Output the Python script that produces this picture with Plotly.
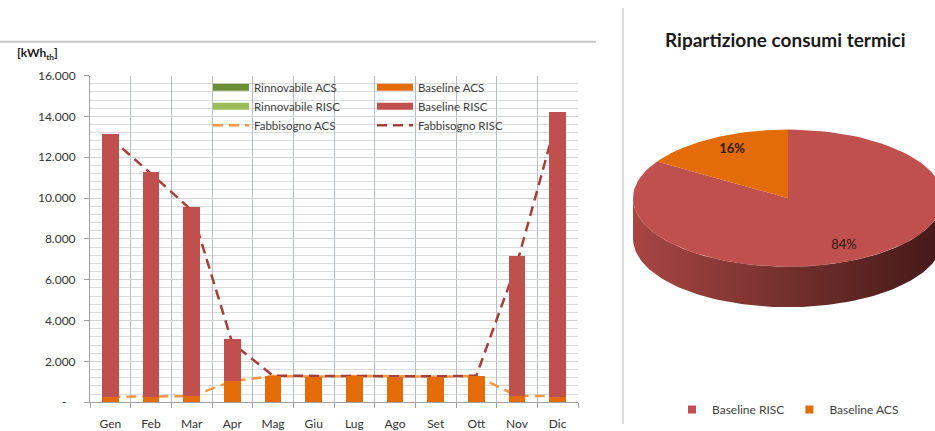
import numpy as np
import plotly.graph_objects as go

# ---------------- data ----------------
months = ["Gen", "Feb", "Mar", "Apr", "Mag", "Giu", "Lug", "Ago", "Set", "Ott", "Nov", "Dic"]
rinnovabile_acs = [0, 0, 0, 0, 0, 0, 0, 0, 0, 0, 0, 0]
rinnovabile_risc = [0, 0, 0, 0, 0, 0, 0, 0, 0, 0, 0, 0]
baseline_acs = [280, 270, 300, 1050, 1290, 1230, 1290, 1260, 1230, 1300, 310, 270]
baseline_risc = [12870, 11030, 9250, 2050, 0, 0, 0, 0, 0, 0, 6840, 13930]
fabbisogno_acs = [270, 270, 300, 1030, 1290, 1260, 1290, 1280, 1250, 1290, 310, 300]
fabbisogno_risc = [12950, 11200, 9400, 2900, 1300, 1290, 1300, 1300, 1270, 1300, 6800, 14000]

y_tick_values = [0, 2000, 4000, 6000, 8000, 10000, 12000, 14000, 16000]
y_tick_labels = ["-\u00a0\u00a0\u00a0", "2.000", "4.000", "6.000", "8.000", "10.000", "12.000", "14.000", "16.000"]

pie_labels = ["Baseline RISC", "Baseline ACS"]
pie_values = [84, 16]

# ---------------- style ----------------
W, H = 935, 431
FONT = "Lato"
TXT = "#404040"
C_RIN_ACS = "#6b8e34"
C_RIN_RISC = "#9bbb59"
C_BASE_ACS = "#e36c09"
C_BASE_RISC = "#c0504d"
C_FAB_ACS = "#f79646"
C_FAB_RISC = "#a43f3c"


def px(x):
    return x / W


def py(y):
    return 1 - y / H


fig = go.Figure()

# legend proxies for bars (long flat swatches like the original)
for name, col, lg in [("Rinnovabile ACS", C_RIN_ACS, "legend"),
                      ("Rinnovabile RISC", C_RIN_RISC, "legend"),
                      ("Baseline ACS", C_BASE_ACS, "legend2"),
                      ("Baseline RISC", C_BASE_RISC, "legend2")]:
    fig.add_trace(go.Scatter(x=[None], y=[None], mode="lines", name=name,
                             line=dict(color=col, width=7), legend=lg))

# dashed need lines (base subplot -> drawn behind the bars)
fig.add_trace(go.Scatter(x=months, y=fabbisogno_acs, mode="lines", name="Fabbisogno ACS",
                         line=dict(color=C_FAB_ACS, width=2.5, dash="10px,6px"), legend="legend"))
fig.add_trace(go.Scatter(x=months, y=fabbisogno_risc, mode="lines", name="Fabbisogno RISC",
                         line=dict(color=C_FAB_RISC, width=2.5, dash="10px,6px"), legend="legend2"))

# stacked bars on an overlaying subplot (drawn above the lines)
for vals, col in [(rinnovabile_acs, C_RIN_ACS), (rinnovabile_risc, C_RIN_RISC),
                  (baseline_acs, C_BASE_ACS), (baseline_risc, C_BASE_RISC)]:
    fig.add_trace(go.Bar(x=months, y=vals, xaxis="x2", yaxis="y2",
                         marker=dict(color=col, line=dict(width=0)),
                         width=0.41, showlegend=False, hoverinfo="skip"))

# ---------------- 3D-look pie ----------------
CX, CY, RX, RY, DEPTH = 788, 197, 155, 71, 42
tot = float(sum(pie_values))
fracs = [v / tot for v in pie_values]
pie_cols = [C_BASE_RISC, C_BASE_ACS]

th = np.radians(np.linspace(180, 360, 120))
top_x = CX + RX * np.cos(th)
top_y = CY - RY * np.sin(th)
wall_x = np.concatenate([top_x, top_x[::-1]])
wall_y = np.concatenate([top_y, (top_y + DEPTH)[::-1]])
fig.add_trace(go.Scatter(x=wall_x, y=wall_y, xaxis="x3", yaxis="y3", mode="lines",
                         line=dict(width=0), fill="toself",
                         fillgradient=dict(type="horizontal",
                                           colorscale=[[0, "#a84643"], [0.5, "#74302d"], [1, "#431918"]]),
                         showlegend=False, hoverinfo="skip"))

start = 90.0
lab_x, lab_y, lab_t = [], [], []
for f, col, v in zip(fracs, pie_cols, pie_values):
    end = start - 360 * f
    a = np.radians(np.linspace(start, end, 100))
    sx = np.concatenate([[CX], CX + RX * np.cos(a), [CX]])
    sy = np.concatenate([[CY], CY - RY * np.sin(a), [CY]])
    fig.add_trace(go.Scatter(x=sx, y=sy, xaxis="x3", yaxis="y3", mode="lines",
                             line=dict(width=0), fill="toself", fillcolor=col,
                             showlegend=False, hoverinfo="skip"))
    mid = np.radians((start + end) / 2)
    lab_x.append(CX + 0.75 * RX * np.cos(mid))
    lab_y.append(CY - 0.8 * RY * np.sin(mid))
    lab_t.append(f"{round(100 * f)}%")
    start = end

lab_t = [lab_t[0], "<b>" + lab_t[1] + "</b>"]
fig.add_trace(go.Scatter(x=lab_x, y=lab_y, xaxis="x3", yaxis="y3", mode="text", text=lab_t,
                         textfont=dict(family=FONT, size=13, color="#2e1a14"),
                         showlegend=False, hoverinfo="skip"))

for name, col in zip(pie_labels, pie_cols):
    fig.add_trace(go.Scatter(x=[None], y=[None], xaxis="x3", yaxis="y3", mode="markers", name=name,
                             marker=dict(symbol="square", size=8, color=col), legend="legend3"))

# ---------------- layout ----------------
leg_common = dict(xanchor="left", yanchor="top", bgcolor="rgba(0,0,0,0)", traceorder="normal",
                  itemwidth=36, font=dict(family=FONT, size=11.5, color=TXT), tracegroupgap=0)

fig.update_layout(
    width=W, height=H,
    margin=dict(l=0, r=0, t=0, b=0),
    paper_bgcolor="white", plot_bgcolor="white",
    barmode="stack",
    font=dict(family=FONT, size=12, color=TXT),
    xaxis=dict(domain=[px(90), px(578)], anchor="y", type="category",
               categoryorder="array", categoryarray=months,
               tickson="boundaries", showgrid=True, gridcolor="#b6bcc4", gridwidth=1,
               ticks="outside", ticklen=5, tickcolor="#a0a0a0",
               showline=True, linecolor="#a0a0a0", linewidth=1, ticklabelstandoff=10,
               tickfont=dict(family=FONT, size=12, color="#333333"), fixedrange=True),
    yaxis=dict(domain=[py(408.5), py(70)], anchor="x", range=[0, 16000],
               tickvals=y_tick_values, ticktext=y_tick_labels,
               showgrid=True, gridcolor="#d2d2d2", gridwidth=1, zeroline=False,
               minor=dict(dtick=400, tick0=0, showgrid=True, gridcolor="#dcdcdc", gridwidth=1),
               ticks="outside", ticklen=5, tickcolor="#a0a0a0",
               showline=True, linecolor="#a0a0a0", linewidth=1,
               ticklabelstandoff=6,
               tickfont=dict(family=FONT, size=12, color="#333333"), fixedrange=True),
    xaxis2=dict(overlaying="x", matches="x", anchor="y2", type="category",
                categoryorder="array", categoryarray=months, visible=False, fixedrange=True),
    yaxis2=dict(overlaying="y", matches="y", anchor="x2", range=[0, 16000], visible=False,
                showgrid=False, zeroline=False, fixedrange=True),
    xaxis3=dict(domain=[px(623), 1], range=[623, 935], anchor="y3", visible=False, fixedrange=True),
    yaxis3=dict(domain=[0, 1], range=[431, 0], anchor="x3", visible=False, fixedrange=True),
    legend=dict(x=px(208), y=py(67), **leg_common),
    legend2=dict(x=px(372), y=py(67), **leg_common),
    legend3=dict(x=px(788), y=py(416), xanchor="center", yanchor="middle", orientation="h",
                 bgcolor="rgba(0,0,0,0)", traceorder="normal",
                 font=dict(family=FONT, size=12, color=TXT)),
    shapes=[
        dict(type="rect", xref="paper", yref="paper", x0=px(205), x1=px(525), y0=py(128), y1=py(67),
             fillcolor="white", line=dict(width=0), layer="between"),
        dict(type="line", xref="paper", yref="paper", x0=0, x1=px(596), y0=py(35), y1=py(35),
             line=dict(color="#c8c8c8", width=2)),
        dict(type="line", xref="paper", yref="paper", x0=px(623), x1=px(623), y0=0, y1=1,
             line=dict(color="#d0d0d0", width=1.5)),
    ],
    annotations=[
        dict(text="<b>Ripartizione consumi termici</b>", x=px(785), y=py(33), xref="paper", yref="paper",
             showarrow=False, xanchor="center", yanchor="middle",
             font=dict(family=FONT, size=19, color="#1a1a1a")),
        dict(text="<b>[kWh<sub>th</sub>]</b>", x=px(37), y=py(47), xref="paper", yref="paper",
             showarrow=False, xanchor="center", yanchor="middle",
             font=dict(family=FONT, size=12, color="#1a1a1a")),
    ],
)

fig.write_html("out.html")
